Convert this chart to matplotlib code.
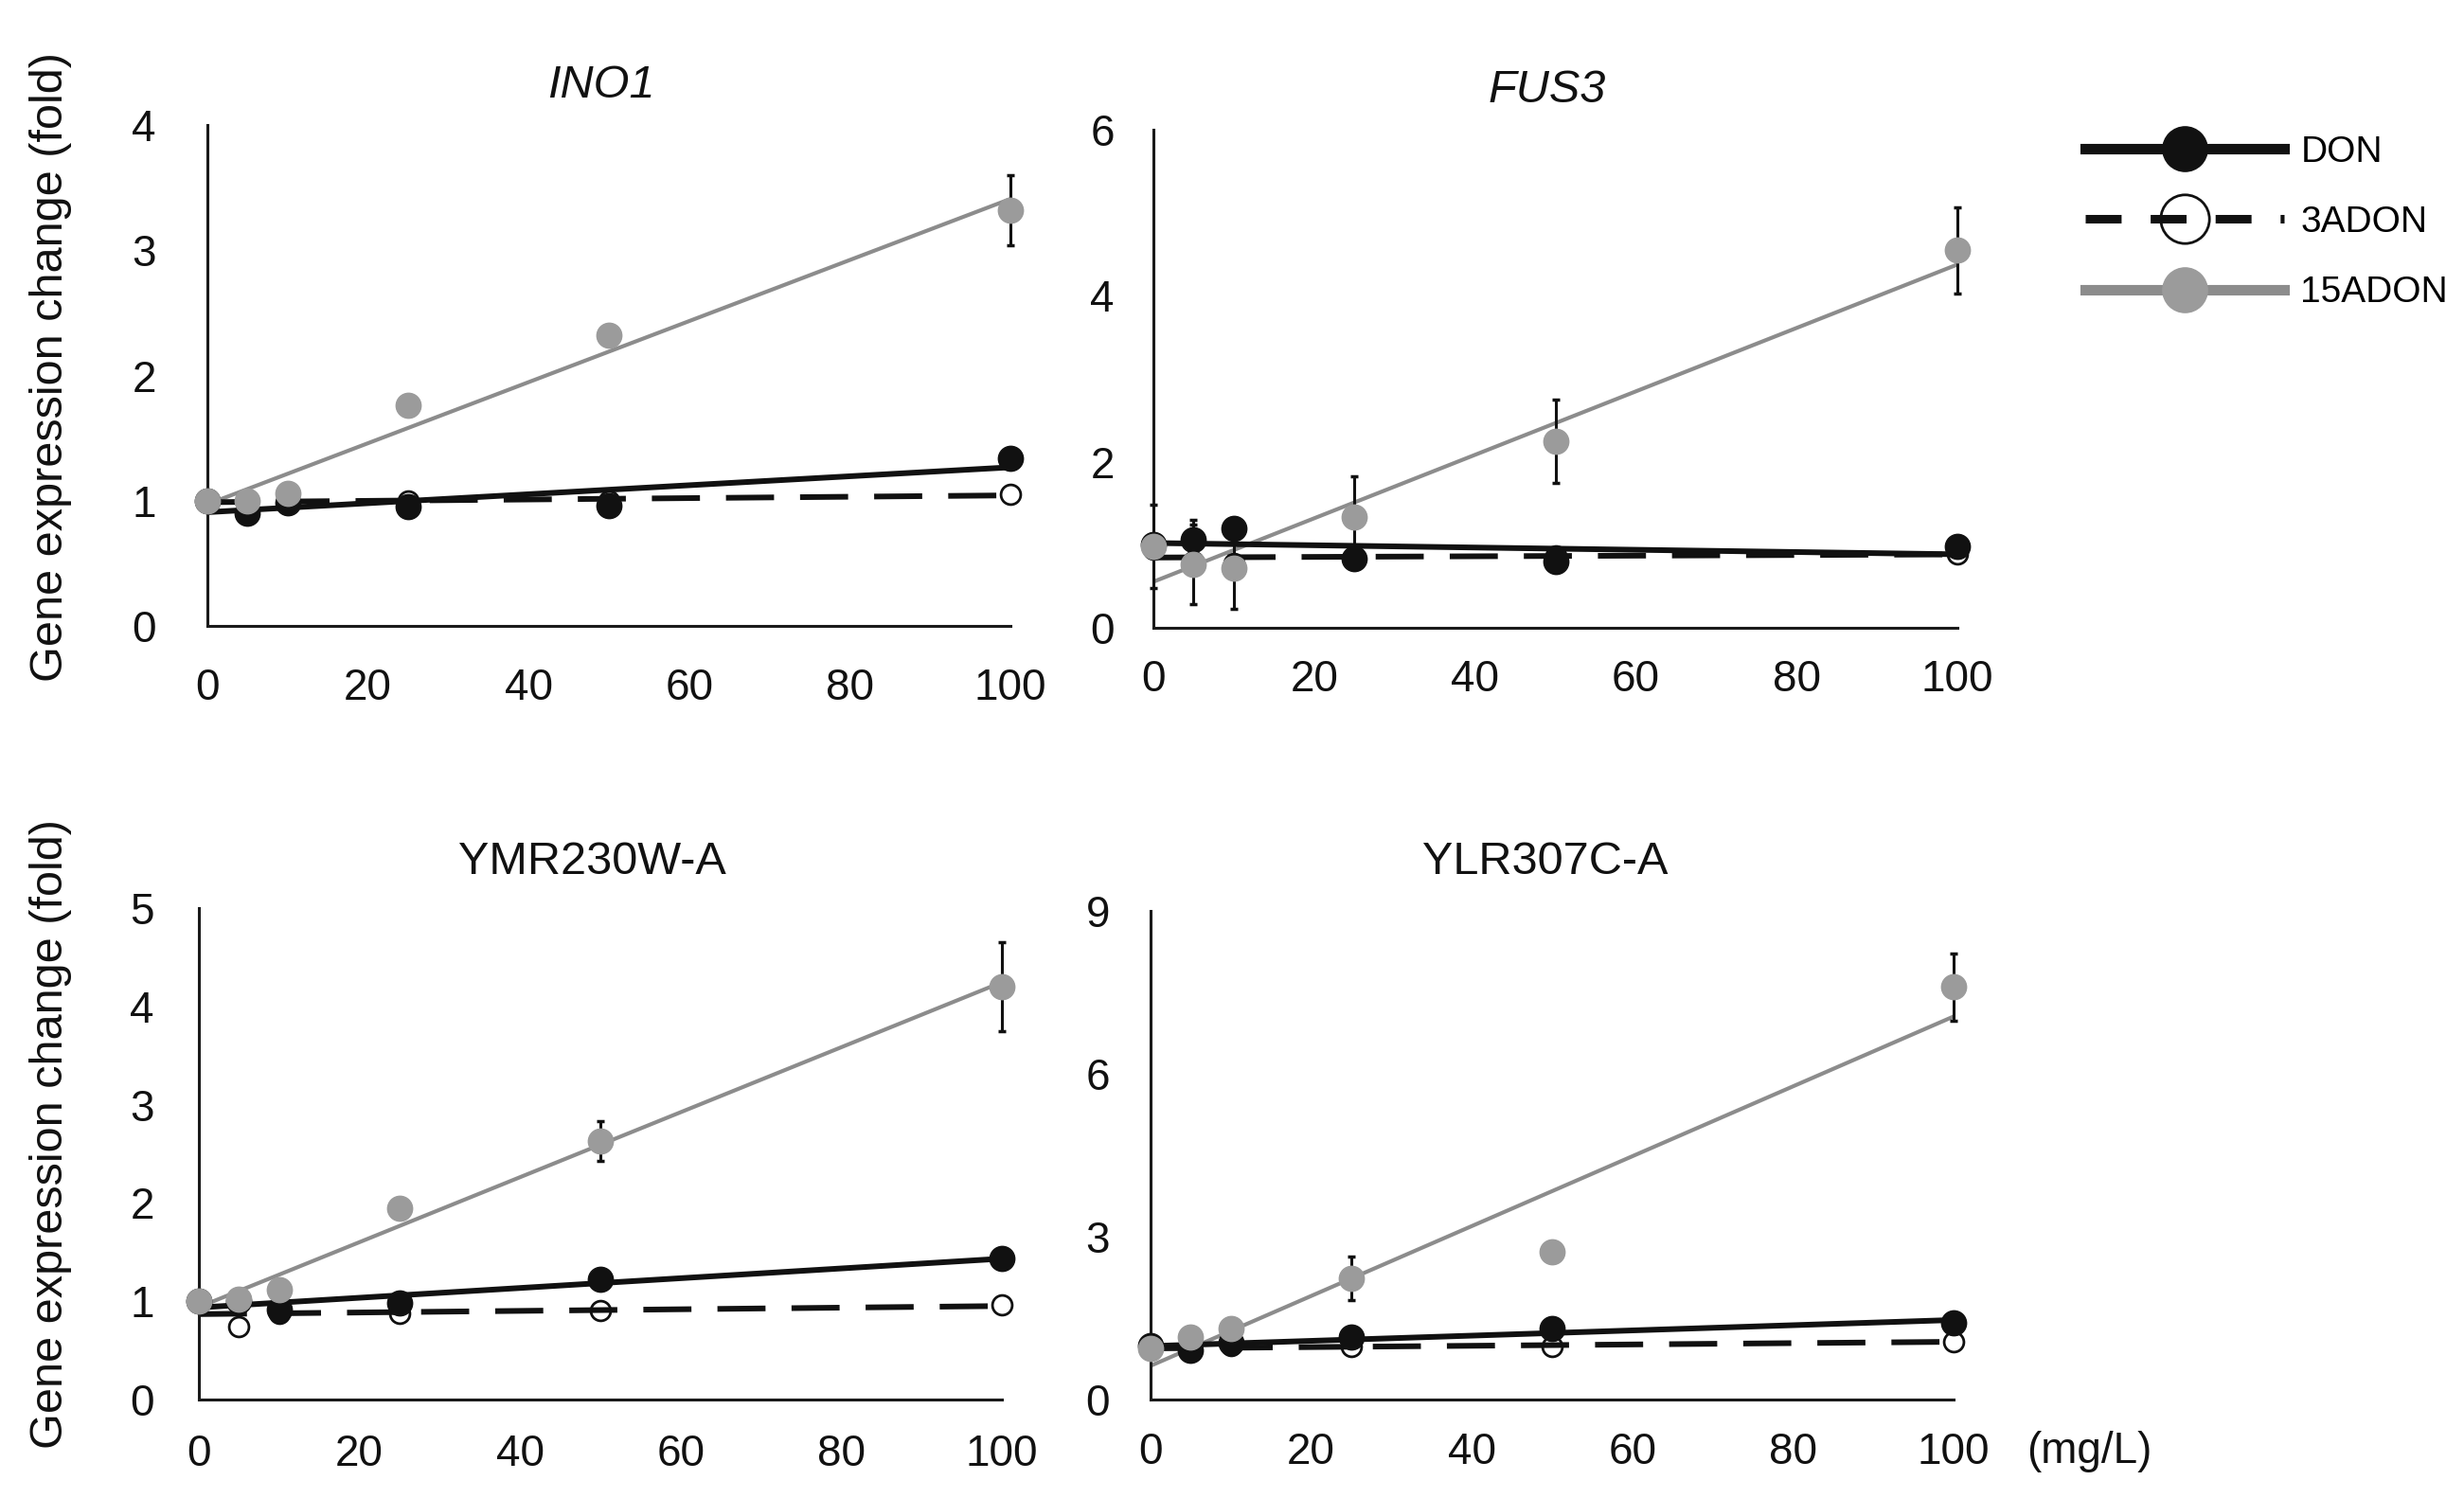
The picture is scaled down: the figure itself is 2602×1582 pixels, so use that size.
import numpy as np
import matplotlib
matplotlib.use("Agg")
import matplotlib.pyplot as plt
from matplotlib.lines import Line2D

plt.rcParams['font.family'] = ['Liberation Sans', 'DejaVu Sans']

W, H = 2602, 1582

# ---------------- data ----------------
dose = [0, 5, 10, 25, 50, 100]
xticks = [0, 20, 40, 60, 80, 100]
series_names = ['DON', '3ADON', '15ADON']
titles = ['INO1', 'FUS3', 'YMR230W-A', 'YLR307C-A']
title_italic = [True, True, False, False]
ymax = [4, 6, 5, 9]
yticks = [[0, 1, 2, 3, 4], [0, 2, 4, 6], [0, 1, 2, 3, 4, 5], [0, 3, 6, 9]]

ino1_don = [1.00, 0.90, 0.98, 0.95, 0.96, 1.34]
ino1_don_err = [0, 0, 0, 0, 0, 0.07]
ino1_3adon = [1.00, 0.98, 1.00, 1.00, 1.00, 1.05]
ino1_3adon_err = [0, 0, 0, 0, 0, 0]
ino1_15adon = [1.00, 1.00, 1.06, 1.76, 2.32, 3.32]
ino1_15adon_err = [0, 0, 0, 0, 0, 0.28]

fus3_don = [1.00, 1.06, 1.20, 0.83, 0.80, 0.98]
fus3_don_err = [0, 0.24, 0, 0, 0, 0]
fus3_3adon = [0.95, 0.80, 0.78, 0.86, 0.87, 0.89]
fus3_3adon_err = [0, 0, 0, 0, 0, 0]
fus3_15adon = [0.98, 0.76, 0.72, 1.33, 2.25, 4.55]
fus3_15adon_err = [0.50, 0.48, 0.49, 0.49, 0.50, 0.52]

ymr_don = [1.00, 1.00, 0.92, 0.98, 1.22, 1.44]
ymr_don_err = [0, 0, 0, 0, 0, 0]
ymr_3adon = [1.00, 0.74, 0.88, 0.88, 0.91, 0.96]
ymr_3adon_err = [0, 0, 0, 0, 0, 0]
ymr_15adon = [1.00, 1.02, 1.12, 1.95, 2.63, 4.20]
ymr_15adon_err = [0, 0, 0, 0.08, 0.20, 0.45]

ylr_don = [1.00, 0.90, 1.05, 1.15, 1.30, 1.42]
ylr_don_err = [0, 0, 0, 0, 0, 0]
ylr_3adon = [0.95, 0.90, 1.00, 0.98, 0.98, 1.07]
ylr_3adon_err = [0, 0, 0, 0, 0, 0]
ylr_15adon = [0.95, 1.15, 1.30, 2.23, 2.72, 7.60]
ylr_15adon_err = [0, 0, 0, 0.40, 0, 0.62]

panel_data = [
    (ino1_don, ino1_don_err, ino1_3adon, ino1_3adon_err, ino1_15adon, ino1_15adon_err),
    (fus3_don, fus3_don_err, fus3_3adon, fus3_3adon_err, fus3_15adon, fus3_15adon_err),
    (ymr_don, ymr_don_err, ymr_3adon, ymr_3adon_err, ymr_15adon, ymr_15adon_err),
    (ylr_don, ylr_don_err, ylr_3adon, ylr_3adon_err, ylr_15adon, ylr_15adon_err),
]

# ---------------- layout (pixels) ----------------
boxes = [(219, 1067, 132, 661), (1218, 2067, 137, 663),
         (210, 1058, 959, 1478), (1215, 2063, 962, 1478)]
ypads = [54, 41, 47, 43]
xpads = [44, 33, 36, 34]
title_pos = [(635, 103), (1634, 108), (625, 923), (1632, 923)]
ylabel_pos = [(54, 388), (54, 1198)]

PX = 72.0 / 100.0

BLACK = '#111111'
GRAY_M = '#9b9b9b'
GRAY_L = '#8c8c8c'

fig = plt.figure(figsize=(W / 100, H / 100), dpi=100)

for i, (l, r, t, b) in enumerate(boxes):
    ax = fig.add_axes([l / W, 1 - b / H, (r - l) / W, (b - t) / H])
    don, don_e, a3, a3_e, a15, a15_e = panel_data[i]
    xx = np.array([0, 100])

    p = np.polyfit(dose, a15, 1)
    ax.plot(xx, np.polyval(p, xx), color=GRAY_L, lw=3.0, zorder=2, solid_capstyle='butt')
    p = np.polyfit(dose, a3, 1)
    ax.plot(xx, np.polyval(p, xx), color=BLACK, lw=4.3, dashes=(8.5, 4.6), zorder=2.1)
    p = np.polyfit(dose, don, 1)
    ax.plot(xx, np.polyval(p, xx), color=BLACK, lw=4.3, zorder=2.2, solid_capstyle='butt')

    for vals, errs in ((a15, a15_e), (a3, a3_e), (don, don_e)):
        xs = [d for d, e in zip(dose, errs) if e > 0]
        ys = [v for v, e in zip(vals, errs) if e > 0]
        es = [e for e in errs if e > 0]
        if xs:
            ax.errorbar(xs, ys, yerr=es, fmt='none', ecolor=BLACK, elinewidth=2.2,
                        capsize=3.0, capthick=2.5, zorder=3, clip_on=False)

    ax.plot(dose, a3, ls='none', marker='o', ms=15, mfc='none', mec=BLACK, mew=2.0,
            zorder=4.0, clip_on=False)
    ax.plot(dose, don, ls='none', marker='o', ms=19, mfc=BLACK, mec=BLACK,
            zorder=4.1, clip_on=False)
    ax.plot(dose, a15, ls='none', marker='o', ms=19, mfc=GRAY_M, mec=GRAY_M,
            zorder=4.2, clip_on=False)

    ax.set_xlim(0, 100)
    ax.set_ylim(0, ymax[i])
    ax.set_xticks(xticks)
    ax.set_yticks(yticks[i])
    ax.tick_params(axis='both', length=0, labelsize=33, colors=BLACK)
    ax.tick_params(axis='y', pad=ypads[i] * PX)
    ax.tick_params(axis='x', pad=xpads[i] * PX)
    for s in ('top', 'right'):
        ax.spines[s].set_visible(False)
    for s in ('left', 'bottom'):
        ax.spines[s].set_linewidth(2.2)
        ax.spines[s].set_color('#1a1a1a')
    ax.patch.set_alpha(0)

    tx, ty = title_pos[i]
    fig.text(tx / W, 1 - ty / H, titles[i], ha='center', va='baseline', fontsize=35,
             style='italic' if title_italic[i] else 'normal', color=BLACK)

for (lx, ly) in ylabel_pos:
    fig.text(lx / W, 1 - ly / H, 'Gene expression change (fold)', rotation=90,
             ha='center', va='center', fontsize=35, color=BLACK)

fig.text(2140 / W, 1 - 1545 / H, '(mg/L)', ha='left', va='baseline', fontsize=33, color=BLACK)

handles = [
    Line2D([], [], color=BLACK, lw=8, marker='o', ms=34, mfc=BLACK, mec=BLACK),
    Line2D([], [], color=BLACK, lw=6.5, dashes=(4.2, 3.4), marker='o', ms=37,
           mfc='none', mec=BLACK, mew=2.0),
    Line2D([], [], color=GRAY_L, lw=8, marker='o', ms=34, mfc=GRAY_M, mec=GRAY_M),
]
fig.legend(handles, series_names, loc='upper left',
           bbox_to_anchor=(2202 / W, 1 - 143 / H), frameon=False, fontsize=28,
           handlelength=5.4, handletextpad=0.45, labelspacing=0.98,
           borderpad=0, borderaxespad=0, markerscale=1.0)

fig.savefig('out.png', dpi=100)
